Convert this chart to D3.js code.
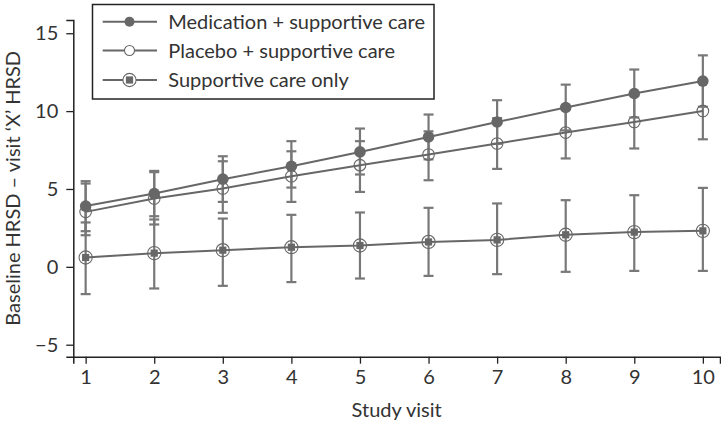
<!DOCTYPE html>
<html>
<head>
<meta charset="utf-8">
<script src="https://cdn.jsdelivr.net/npm/d3@7"></script>
<style>
  html, body { margin: 0; padding: 0; background: #fff; }
  svg { display: block; font-family: Lato, "Noto Sans", sans-serif; }
</style>
</head>
<body>
<svg id="chart" width="721" height="425"></svg>
<script>
// Study visits and change from baseline HRSD per arm (mean with error bar limits)
const visits = [1, 2, 3, 4, 5, 6, 7, 8, 9, 10];

const medicationMean  = [3.9, 4.71, 5.63, 6.46, 7.38, 8.34, 9.3, 10.23, 11.13, 11.93];
const medicationUpper = [5.5, 6.16, 7.1, 8.07, 8.88, 9.78, 10.7, 11.7, 12.67, 13.58];
const medicationLower = [2.29, 3.25, 4.17, 5.09, 5.93, 6.9, 7.9, 8.76, 9.59, 10.28];

const placeboMean  = [3.53, 4.39, 5.03, 5.82, 6.53, 7.21, 7.92, 8.62, 9.3, 10.01];
const placeboUpper = [5.35, 6.08, 6.78, 7.42, 8.07, 8.7, 9.55, 10.28, 11.0, 11.83];
const placeboLower = [2.03, 2.72, 3.47, 4.17, 4.81, 5.56, 6.29, 6.96, 7.6, 8.19];

const supportiveMean  = [0.6, 0.88, 1.07, 1.26, 1.37, 1.6, 1.73, 2.06, 2.23, 2.31];
const supportiveUpper = [2.85, 3.04, 3.1, 3.34, 3.49, 3.79, 4.07, 4.28, 4.6, 5.07];
const supportiveLower = [-1.75, -1.39, -1.22, -0.98, -0.75, -0.58, -0.47, -0.32, -0.26, -0.26];

const seriesNames = ["Medication + supportive care", "Placebo + supportive care", "Supportive care only"];
const yTicks = [-5, 0, 5, 10, 15];
const xTitle = "Study visit";
const yTitle = "Baseline HRSD \u2013 visit \u2018X\u2019 HRSD";

const series = [
  { name: seriesNames[0], kind: "filled", mean: medicationMean, lo: medicationLower, hi: medicationUpper },
  { name: seriesNames[1], kind: "open",   mean: placeboMean,    lo: placeboLower,    hi: placeboUpper },
  { name: seriesNames[2], kind: "square", mean: supportiveMean,  lo: supportiveLower, hi: supportiveUpper }
];

const svg = d3.select("#chart");
const markColor = "#676767";
const barColor = "#787878";
const fontSize = 20;

const x = d3.scaleLinear().domain([0.82, 10.25]).range([73.3, 720]);
const y = d3.scaleLinear().domain([-5.77, 15.85]).range([356.7, 20]);

// Axes
const xAxis = svg.append("g")
  .attr("transform", `translate(0,${y.range()[0]})`)
  .call(d3.axisBottom(x).tickValues(visits).tickFormat(d3.format("d")).tickSizeOuter(0).tickSize(7).tickPadding(6));
const yAxis = svg.append("g")
  .attr("transform", `translate(${x.range()[0]},0)`)
  .call(d3.axisLeft(y).tickValues(yTicks).tickFormat(d => d < 0 ? "\u2212" + Math.abs(d) : d).tickSizeOuter(0).tickSize(7).tickPadding(8));

[xAxis, yAxis].forEach(g => {
  g.select(".domain").attr("stroke", "#222").attr("stroke-width", 1.5);
  g.selectAll(".tick line").attr("stroke", "#222").attr("stroke-width", 1.3);
  g.selectAll(".tick text").attr("fill", "#333").style("font-size", fontSize + "px").style("font-family", "Lato, 'Noto Sans', sans-serif");
});

// Axis titles
svg.append("text")
  .attr("x", (x.range()[0] + x.range()[1]) / 2)
  .attr("y", 417)
  .attr("text-anchor", "middle")
  .attr("fill", "#333")
  .style("font-size", fontSize + "px")
  .text(xTitle);

svg.append("text")
  .attr("transform", `translate(20,${(y.range()[0] + y.range()[1]) / 2}) rotate(-90)`)
  .attr("text-anchor", "middle")
  .attr("fill", "#333")
  .style("font-size", fontSize + "px")
  .text(yTitle);

const plot = svg.append("g");
const capHalf = 5;

// Error bars
series.forEach(s => {
  const g = plot.append("g").attr("stroke", barColor).attr("stroke-width", 2.2).attr("fill", "none");
  visits.forEach((v, i) => {
    const cx = x(v);
    g.append("line").attr("x1", cx).attr("x2", cx).attr("y1", y(s.lo[i])).attr("y2", y(s.hi[i]));
    g.append("line").attr("x1", cx - capHalf).attr("x2", cx + capHalf).attr("y1", y(s.hi[i])).attr("y2", y(s.hi[i]));
    g.append("line").attr("x1", cx - capHalf).attr("x2", cx + capHalf).attr("y1", y(s.lo[i])).attr("y2", y(s.lo[i]));
  });
});

// Connecting lines
const lineGen = d3.line().x((d, i) => x(visits[i])).y(d => y(d));
series.forEach(s => {
  plot.append("path")
    .attr("d", lineGen(s.mean))
    .attr("fill", "none")
    .attr("stroke", markColor)
    .attr("stroke-width", 2);
});

// Marker drawing shared by plot and legend
function drawMarker(g, kind, cx, cy, legend) {
  if (kind === "filled") {
    g.append("circle").attr("cx", cx).attr("cy", cy).attr("r", legend ? 5 : 5.8).attr("fill", markColor);
  } else if (kind === "open") {
    g.append("circle").attr("cx", cx).attr("cy", cy).attr("r", legend ? 5 : 5.8)
      .attr("fill", legend ? "#fff" : "none").attr("stroke", markColor).attr("stroke-width", 1.1);
  } else {
    g.append("circle").attr("cx", cx).attr("cy", cy).attr("r", 6.6)
      .attr("fill", legend ? "#fff" : "none").attr("stroke", markColor).attr("stroke-width", 1.1);
    g.append("rect").attr("x", cx - 3.6).attr("y", cy - 3.6).attr("width", 7.2).attr("height", 7.2).attr("fill", markColor);
  }
}

// Markers
series.forEach(s => {
  const g = plot.append("g");
  visits.forEach((v, i) => drawMarker(g, s.kind, x(v), y(s.mean[i]), false));
});

// Legend
const legend = svg.append("g");
legend.append("rect")
  .attr("x", 92.5).attr("y", 4.5).attr("width", 341.5).attr("height", 94.5)
  .attr("fill", "#fff").attr("stroke", "#222").attr("stroke-width", 1.5);
const rowY = [21.7, 50.5, 80];
series.forEach((s, i) => {
  const g = legend.append("g");
  g.append("line").attr("x1", 102.7).attr("x2", 157).attr("y1", rowY[i]).attr("y2", rowY[i])
    .attr("stroke", markColor).attr("stroke-width", 2);
  drawMarker(g, s.kind, 129.5, rowY[i], true);
  g.append("text").attr("x", 168.3).attr("y", rowY[i]).attr("dy", "0.35em")
    .attr("fill", "#333").style("font-size", fontSize + "px").text(s.name);
});
</script>
</body>
</html>
